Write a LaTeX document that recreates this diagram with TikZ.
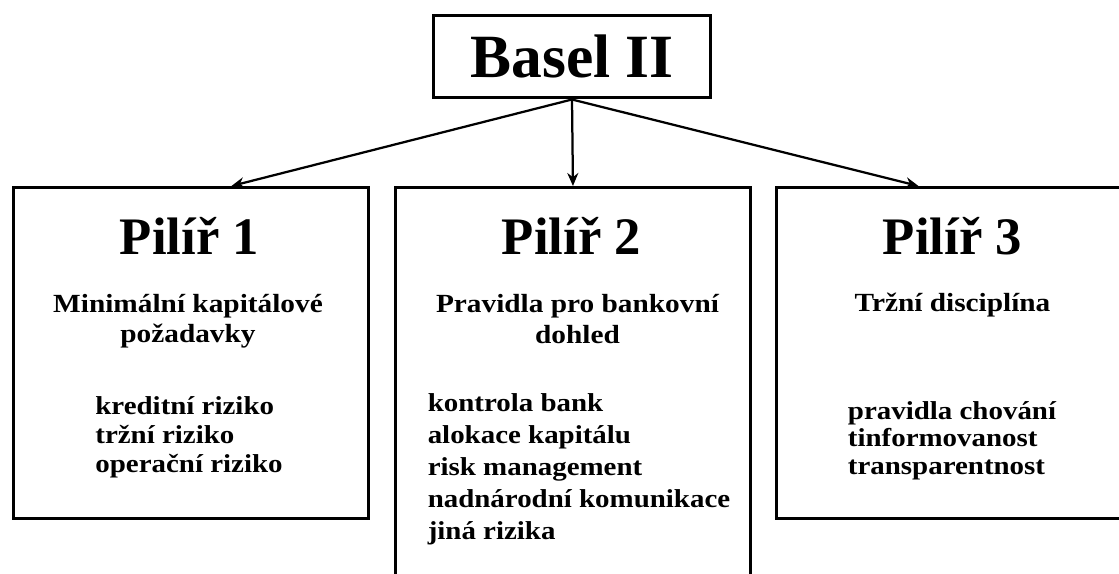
\documentclass[tikz,border=0pt]{standalone}
\usepackage{fontspec}
\setmainfont{Liberation Serif}
\newfontfamily\widefont[FakeStretch=1.12]{Liberation Serif}
\usetikzlibrary{positioning,calc,arrows.meta}

\begin{document}
\begin{tikzpicture}[
        x=0.02cm, y=-0.02cm,
        pillar/.style={rectangle, draw=black, line width=0.06cm, minimum width=7.1cm, minimum height=6.62cm, anchor=north west, inner sep=0pt},
        heading/.style={anchor=base, inner sep=0pt, font=\fontsize{30}{36}\selectfont\bfseries},
        subtitle/.style={anchor=base, inner sep=0pt, align=center, font=\widefont\fontsize{14.9}{17}\selectfont\bfseries},
        items/.style={anchor=base, inner sep=0pt, align=left, font=\widefont\fontsize{14.7}{16.4}\selectfont\bfseries},
        arrow/.style={-{Stealth[length=0.26cm, width=0.22cm]}, line width=0.045cm},
      ]
      \clip (0,0) rectangle (1119,574);
      % title
      \node [rectangle, draw=black, line width=0.06cm, minimum width=5.56cm, minimum height=1.66cm, inner sep=0pt,
             font=\fontsize{35}{40}\selectfont\bfseries] (basel) at (572,56.5) {Basel II};
      % pillars
      \node [pillar] (pillar1) at (12,186) {};
      \node [pillar, minimum height=8.2cm] (pillar2) at (394,186) {};
      \node [pillar] (pillar3) at (775,186) {};
      \node [heading] (head1) at (189.5,255) {Pilíř 1};
      \node [heading] (head2) at (571.5,255) {Pilíř 2};
      \node [heading] (head3) at (952.5,255) {Pilíř 3};
      % base anchor = last line
      \node [subtitle] (sub1) at (188,342) {Minimální kapitálové\\požadavky};
      \node [subtitle, font=\widefont\fontsize{14.9}{17.5}\selectfont\bfseries] (sub2) at (577.5,343) {Pravidla pro bankovní\\dohled};
      \node [subtitle] (sub3) at (952.5,312) {Tržní disciplína};
      \node [items] (risks1) at (189,472) {kreditní riziko\\tržní riziko\\operační riziko};
      \node [items, font=\widefont\fontsize{14.7}{18.1}\selectfont\bfseries] (risks2) at (579,539) {kontrola bank\\alokace kapitálu\\risk management\\nadnárodní komunikace\\jiná rizika};
      \node [items, font=\widefont\fontsize{14.7}{15.6}\selectfont\bfseries] (risks3) at (952,474) {pravidla chování\\tinformovanost\\transparentnost};
      \draw [arrow] (basel.south) -- ([xshift=0.81cm]pillar1.north);
      \draw [arrow] (basel.south) -- (pillar2.north);
      \draw [arrow] (basel.south) -- ([xshift=-0.71cm]pillar3.north);
\end{tikzpicture}
\end{document}
